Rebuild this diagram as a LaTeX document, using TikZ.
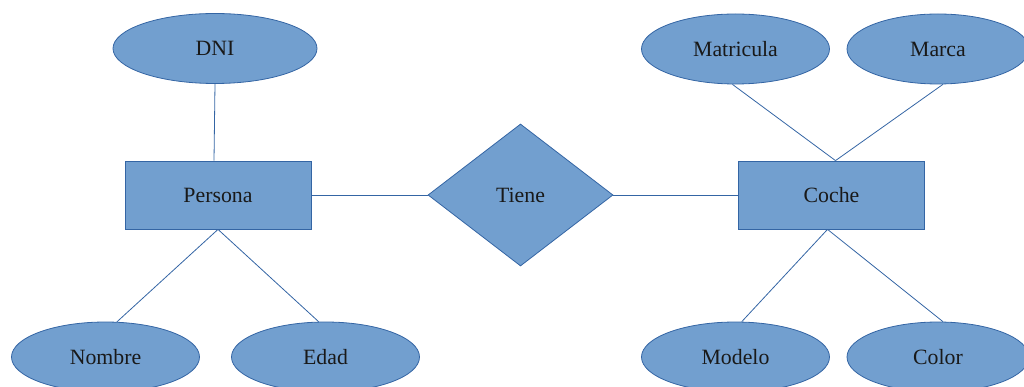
\documentclass[tikz,border=0pt]{standalone}
\usepackage{fontspec}
\setmainfont{Liberation Serif}
\usetikzlibrary{shapes.geometric}
\definecolor{erfill}{HTML}{729FCF}
\definecolor{erline}{HTML}{3465A4}
\tikzset{
  base/.style={fill=erfill, draw=erline, line width=0.8pt, inner sep=0pt,
    font=\fontsize{21.8}{26}\selectfont, text=black!90},
  attr/.style={base, ellipse, minimum width=188pt, minimum height=70pt},
  entity/.style={base, rectangle, minimum width=186pt, minimum height=68pt},
  relation/.style={base, diamond, minimum width=185pt, minimum height=142pt},
  link/.style={draw=erline, line width=0.8pt}
}
\begin{document}
\begin{tikzpicture}[x=1pt,y=-1pt]
\useasboundingbox (0,0) rectangle (1024,387);
% entities and relationship
\node[entity] (persona) at (218,195) {Persona};
\node[entity] (coche) at (831.5,195) {Coche};
\node[relation] (tiene) at (520.5,195) {Tiene};
% attributes
\node[attr, minimum width=204pt] (dni) at (215,48.5) {DNI};
\node[attr] (nombre) at (105.5,357) {Nombre};
\node[attr] (edad) at (325.5,357) {Edad};
\node[attr] (matricula) at (735.5,49) {Matricula};
\node[attr, minimum width=182pt] (marca) at (938,49) {Marca};
\node[attr] (modelo) at (735.5,357) {Modelo};
\node[attr, minimum width=182pt] (color) at (938,357) {Color};
% connectors
\draw[link] (dni.south) -- ([xshift=-4pt]persona.north);
\draw[link] (persona.south) -- (nombre.72);
\draw[link] (persona.south) -- (edad.101);
\draw[link] (persona.east) -- (tiene.west);
\draw[link] (tiene.east) -- (coche.west);
\draw[link] (matricula.265) -- ([xshift=4pt]coche.north);
\draw[link] (marca.278) -- ([xshift=4pt]coche.north);
\draw[link] ([xshift=-4pt]coche.south) -- (modelo.80);
\draw[link] ([xshift=-4pt]coche.south) -- (color.82);
\end{tikzpicture}
\end{document}
